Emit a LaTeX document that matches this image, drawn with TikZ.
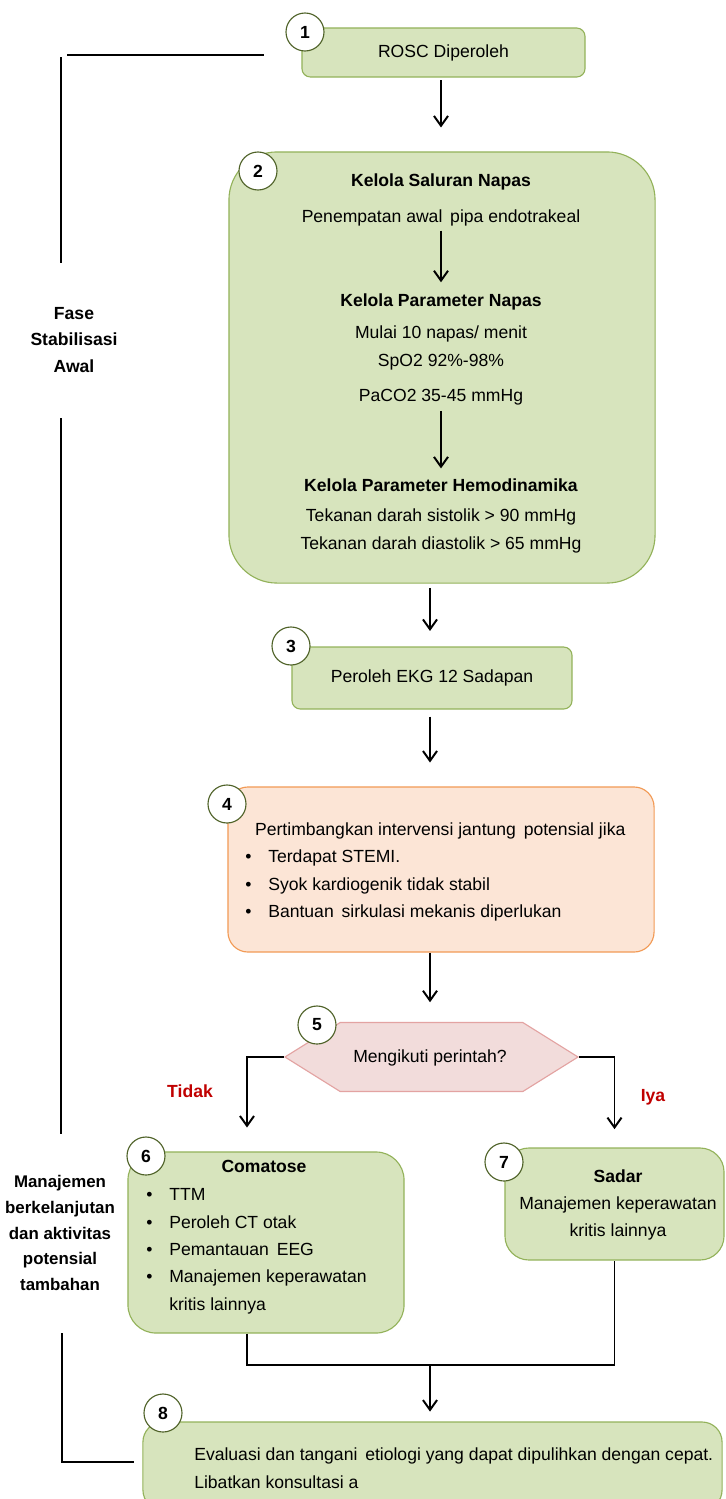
\documentclass[tikz,border=0pt]{standalone}
\usepackage{fontspec}
\setmainfont{Liberation Sans}
\usetikzlibrary{shapes.symbols,arrows.meta}

\definecolor{boxgreen}{HTML}{D7E4BD}
\definecolor{edgegreen}{HTML}{93B25A}
\definecolor{ringgreen}{HTML}{4F6228}
\definecolor{boxorange}{HTML}{FCE5D6}
\definecolor{edgeorange}{HTML}{F29A55}
\definecolor{boxpink}{HTML}{F2DCDB}
\definecolor{edgepink}{HTML}{E3A3A2}
\definecolor{labelred}{HTML}{C00000}

\begin{document}
\begin{tikzpicture}[x=0.025cm, y=-0.025cm,
		font=\fontsize{12.5}{19.5}\selectfont,
		>={Straight Barb[length=7pt,width=10pt]},
		greenbox/.style={draw=edgegreen, fill=boxgreen, line width=0.8pt},
		stepnum/.style={circle, draw=ringgreen, fill=white, line width=0.8pt, minimum size=0.95cm, inner sep=0pt, font=\fontsize{12.5}{14}\selectfont\bfseries},
		flow/.style={->, line width=1.4pt},
		link/.style={line width=1.4pt},
		txt/.style={inner sep=0pt, align=center},
		boldtxt/.style={txt, font=\fontsize{12.5}{19.5}\selectfont\bfseries}]
		\useasboundingbox (0,0) rectangle (725,1499);
		\clip (0,0) rectangle (725,1499);

		% boxes
		\node[greenbox, rounded corners=6pt, minimum width=7.075cm, minimum height=1.225cm] (rosc) at (443.5,52.5) {ROSC Diperoleh};
		\node[greenbox, rounded corners=1.2cm, minimum width=10.65cm, minimum height=10.775cm] (stab) at (442,367.5) {};
		\node[greenbox, rounded corners=6pt, minimum width=7cm, minimum height=1.55cm] (ekg) at (432,678) {Peroleh EKG 12 Sadapan};
		\node[draw=edgeorange, fill=boxorange, line width=0.8pt, rounded corners=0.5cm, minimum width=10.65cm, minimum height=4.125cm] (cardio) at (441,869.5) {};
		\node[signal, signal to=west and east, signal pointer angle=64, draw=edgepink, fill=boxpink, line width=0.8pt, minimum width=7.325cm, minimum height=1.725cm, inner sep=0pt] (ask) at (431.5,1057) {};
		\node[greenbox, rounded corners=0.7cm, minimum width=6.9cm, minimum height=4.525cm] (coma) at (266,1242.5) {};
		\node[greenbox, rounded corners=0.6cm, minimum width=5.475cm, minimum height=2.8cm] (aware) at (614.5,1204) {};
		\node[greenbox, rounded corners=0.5cm, minimum width=14.475cm, minimum height=2.2cm] (cause) at (432.5,1466) {};

		% texts in box 2
		\node[boldtxt] (airway) at (441,182) {Kelola Saluran Napas};
		\node[txt] (tube) at (441,218) {Penempatan awal\, pipa endotrakeal};
		\node[boldtxt] (breath) at (441,302) {Kelola Parameter Napas};
		\node[txt] (rate) at (441,334) {Mulai 10 napas/ menit};
		\node[txt] (spo) at (441,362) {SpO2 92\%-98\%};
		\node[txt] (paco) at (441,397) {PaCO2 35-45 mmHg};
		\node[boldtxt] (hemo) at (441,485) {Kelola Parameter Hemodinamika};
		\node[txt] (sys) at (441,517) {Tekanan darah sistolik > 90 mmHg};
		\node[txt] (dia) at (441,545) {Tekanan darah diastolik > 65 mmHg};

		% other texts
		\node[txt, anchor=west] (cardiotext) at (245,871) {\begin{tabular}{@{}l@{\hspace{12pt}}l@{}}
			\multicolumn{2}{@{}l}{\hspace{7pt}Pertimbangkan intervensi jantung\, potensial jika}\\
			\textbullet & Terdapat STEMI.\\
			\textbullet & Syok kardiogenik tidak stabil\\
			\textbullet & Bantuan\, sirkulasi mekanis diperlukan
		\end{tabular}};
		\node[txt] (asktext) at (430,1058) {Mengikuti perintah?};
		\node[boldtxt] (comatitle) at (264,1166) {Comatose};
		\node[txt, anchor=west] (comalist) at (146,1250) {\begin{tabular}{@{}l@{\hspace{12pt}}l@{}}
			\textbullet & TTM\\
			\textbullet & Peroleh CT otak\\
			\textbullet & Pemantauan\, EEG\\
			\textbullet & Manajemen keperawatan\\
			 & kritis lainnya
		\end{tabular}};
		\node[txt] (awaretext) at (618,1205) {\textbf{Sadar}\\Manajemen keperawatan\\kritis lainnya};
		\node[txt, anchor=west, align=left, font=\fontsize{12.5}{20}\selectfont] (causetext) at (194,1468) {Evaluasi dan tangani\, etiologi yang dapat dipulihkan dengan cepat.\\Libatkan konsultasi a};

		\node[boldtxt, text=labelred] (no) at (190,1091) {Tidak};
		\node[boldtxt, text=labelred] (yes) at (653,1097) {Iya};

		\node[txt, font=\fontsize{12.5}{19}\selectfont\bfseries] (phaseone) at (74,340) {Fase\\Stabilisasi\\Awal};
		\node[txt, font=\fontsize{12}{18.3}\selectfont\bfseries] (phasetwo) at (60,1233) {Manajemen\\berkelanjutan\\dan aktivitas\\potensial\\tambahan};

		% step numbers
		\node[stepnum] (n1) at (305,32) {1};
		\node[stepnum] (n2) at (258,171) {2};
		\node[stepnum] (n3) at (291,646) {3};
		\node[stepnum] (n4) at (227,804) {4};
		\node[stepnum] (n5) at (317,1025) {5};
		\node[stepnum] (n6) at (146,1156) {6};
		\node[stepnum] (n7) at (504,1162) {7};
		\node[stepnum] (n8) at (163,1413) {8};

		% arrows
		\draw[flow, shorten <=2pt, shorten >=17pt] (rosc.south -| airway) -- (airway |- stab.north);
		\draw[flow, shorten <=3pt, shorten >=8pt] (tube) -- (breath);
		\draw[flow, shorten <=4pt, shorten >=7pt] (paco) -- (hemo);
		\draw[flow, shorten <=3pt, shorten >=11pt] (stab.south -| asktext) -- (ekg.north -| asktext);
		\draw[flow, shorten <=5pt, shorten >=17pt] (ekg.south -| asktext) -- (asktext |- cardio.north);
		\draw[flow, shorten >=14pt] (cardio.south -| asktext) -- (asktext |- ask.north);
		\draw[flow, shorten >=17pt] (ask.west) -| ([xshift=-0.475cm]coma.north);
		\draw[flow, shorten >=13pt] (ask.east) -| (aware.north);
		\coordinate (join) at (430,1365);
		\draw[link] ([xshift=-0.475cm]coma.south) |- (join) -| (aware.south);
		\draw[flow, shorten >=7pt] (join) -- (join |- cause.north);

		% phase brackets
		\draw[link, line width=2pt] (67,55) -- (264,55);
		\draw[link] (61,57) -- (61,263);
		\draw[link] (61,418) -- (61,1134);
		\draw[link] (62,1333) -- (62,1462) -- (134,1462);
	\end{tikzpicture}
\end{document}
